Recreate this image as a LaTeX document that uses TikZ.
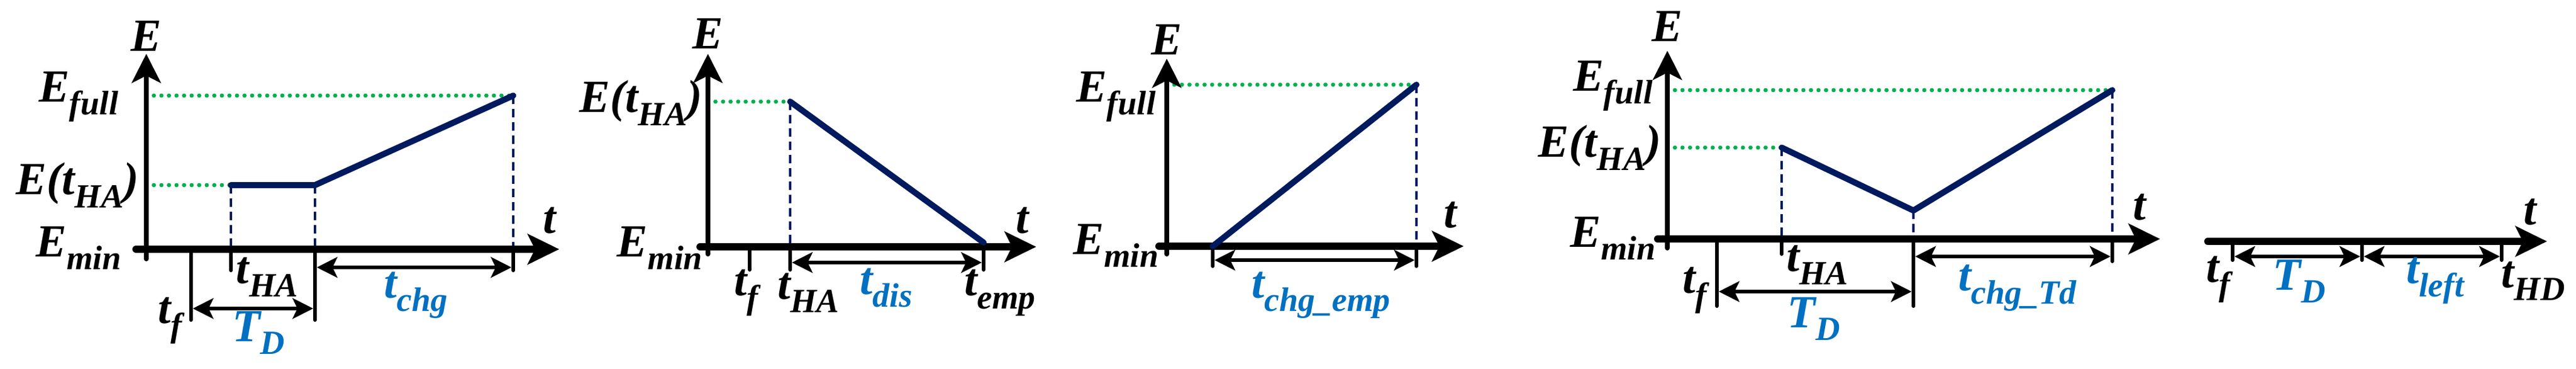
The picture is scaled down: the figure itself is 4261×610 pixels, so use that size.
\documentclass[tikz,border=0pt]{standalone}
\usepackage{fontspec}
\setmainfont{Liberation Serif}
\usetikzlibrary{arrows.meta}
\definecolor{navy}{RGB}{0,26,94}
\definecolor{grn}{RGB}{0,176,80}
\definecolor{lblue}{RGB}{0,112,192}
\newcommand\Lb[2]{#1\raisebox{-0.28em}{\fontsize{56}{56}\selectfont #2}}
\tikzset{
 lab/.style={font=\fontsize{76}{76}\selectfont\bfseries\itshape, inner sep=0pt},
 blab/.style={lab, text=lblue},
 haxis/.style={line width=12pt, line cap=round, -{Stealth[length=52pt,width=50pt,inset=12pt]}},
 vaxis/.style={line width=8pt, line cap=round, -{Stealth[length=48pt,width=48pt,inset=12pt]}},
 curve/.style={navy, line width=10pt, line cap=round, line join=round},
 gdot/.style={grn, line width=7pt, line cap=round, dash pattern=on 0pt off 12.5pt},
 ndash/.style={navy, line width=3.5pt, dash pattern=on 14pt off 8pt},
 tick/.style={line width=6pt, line cap=round},
 dim/.style={line width=6pt, {Stealth[length=34pt,width=34pt,inset=8pt]}-{Stealth[length=34pt,width=34pt,inset=8pt]}},
}
\begin{document}
\begin{tikzpicture}[x=1pt,y=1pt]
\useasboundingbox (0,-610) rectangle (4261,0);
% ===== Panel 1 =====
\coordinate (a0) at (225,-412); \coordinate (a1) at (925,-412);
\coordinate (v0) at (242,-428); \coordinate (v1) at (242,-89);
\coordinate (f1) at (849,-158); \coordinate (g0) at (242,-158);
\coordinate (h0) at (242,-306); \coordinate (p1) at (382,-306); \coordinate (p2) at (521,-306);
\draw[gdot] (g0) -- (f1);
\draw[gdot] (h0) -- (p1);
\draw[ndash] (p1) -- (382,-412); \draw[ndash] (p2) -- (521,-412); \draw[ndash] (f1) -- (849,-412);
\draw[tick] (316,-412) -- (316,-529); \draw[tick] (382,-412) -- (382,-447);
\draw[tick] (521,-412) -- (521,-529); \draw[tick] (849,-412) -- (849,-447);
\draw[haxis] (a0) -- (a1);
\draw[vaxis] (v0) -- (v1);
\draw[curve] (p1) -- (p2) -- (f1);
\draw[dim] (524,-442) -- (846,-442);
\draw[dim] (319,-510) -- (518,-510);
\node[lab] (E1) at (242,-60) {E};
\node[lab] (Ef1) at (130,-160) {\Lb{E}{full}};
\node[lab] (Eh1) at (128,-306) {E(\Lb{t}{HA})};
\node[lab] (Em1) at (130,-410) {\Lb{E}{min}};
\node[lab] (t1) at (909,-364) {t};
\node[lab] (tha1) at (442,-458) {\Lb{t}{HA}};
\node[blab] (tc1) at (688,-488) {\Lb{t}{chg}};
\node[lab] (tf1) at (281,-530) {\Lb{t}{f}};
\node[blab] (TD1) at (428,-550) {\Lb{T}{D}};
% ===== Panel 2 =====
\coordinate (b0) at (1158,-408); \coordinate (b1) at (1714,-408);
\coordinate (w0) at (1171,-420); \coordinate (w1) at (1171,-89);
\coordinate (q1) at (1307,-168); \coordinate (q2) at (1627,-401);
\draw[gdot] (1171,-168) -- (q1);
\draw[ndash] (q1) -- (1307,-408);
\draw[tick] (1240,-408) -- (1240,-446); \draw[tick] (1307,-408) -- (1307,-446); \draw[tick] (1627,-408) -- (1627,-446);
\draw[haxis] (b0) -- (b1);
\draw[vaxis] (w0) -- (w1);
\draw[curve] (q1) -- (q2);
\draw[dim] (1310,-434) -- (1624,-434);
\node[lab] (E2) at (1171,-56) {E};
\node[lab,anchor=east] (Eh2) at (1162,-170) {E(\Lb{t}{HA})};
\node[lab,anchor=east] (Em2) at (1162,-410) {\Lb{E}{min}};
\node[lab] (t2) at (1691,-364) {t};
\node[lab] (tf2) at (1234,-484) {\Lb{t}{f}};
\node[lab] (tha2) at (1337,-484) {\Lb{t}{HA}};
\node[blab] (td2) at (1466,-476) {\Lb{t}{dis}};
\node[lab] (te2) at (1654,-484) {\Lb{t}{emp}};
% ===== Panel 3 =====
\coordinate (c0) at (1917,-407); \coordinate (c1) at (2421,-407);
\coordinate (u0) at (1930,-420); \coordinate (u1) at (1930,-97);
\coordinate (r1) at (2006,-407); \coordinate (r2) at (2343,-140);
\draw[gdot] (1930,-140) -- (r2);
\draw[ndash] (r2) -- (2343,-407);
\draw[tick] (2006,-407) -- (2006,-440); \draw[tick] (2343,-407) -- (2343,-440);
\draw[haxis] (c0) -- (c1);
\draw[vaxis] (u0) -- (u1);
\draw[curve] (r1) -- (r2);
\draw[dim] (2009,-430) -- (2340,-430);
\node[lab] (E3) at (1930,-66) {E};
\node[lab] (Ef3) at (1846,-160) {\Lb{E}{full}};
\node[lab] (Em3) at (1846,-406) {\Lb{E}{min}};
\node[lab] (t3) at (2399,-355) {t};
\node[blab] (tce3) at (2185,-488) {\Lb{t}{chg\_emp}};
% ===== Panel 4 =====
\coordinate (d0) at (2742,-395); \coordinate (d1) at (3573,-395);
\coordinate (s0) at (2758,-410); \coordinate (s1) at (2758,-84);
\coordinate (m1) at (2947,-244); \coordinate (m2) at (3165,-348); \coordinate (m3) at (3494,-149);
\draw[gdot] (2758,-149) -- (m3);
\draw[gdot] (2758,-244) -- (m1);
\draw[ndash] (m1) -- (2947,-395); \draw[ndash] (m2) -- (3165,-395); \draw[ndash] (m3) -- (3494,-395);
\draw[tick] (2840,-395) -- (2840,-506); \draw[tick] (2947,-395) -- (2947,-420);
\draw[tick] (3165,-395) -- (3165,-506); \draw[tick] (3494,-395) -- (3494,-432);
\draw[haxis] (d0) -- (d1);
\draw[vaxis] (s0) -- (s1);
\draw[curve] (m1) -- (m2) -- (m3);
\draw[dim] (3168,-424) -- (3491,-424);
\draw[dim] (2843,-482) -- (3162,-482);
\node[lab] (E4) at (2758,-44) {E};
\node[lab] (Ef4) at (2668,-142) {\Lb{E}{full}};
\node[lab] (Eh4) at (2646,-244) {E(\Lb{t}{HA})};
\node[lab] (Em4) at (2668,-394) {\Lb{E}{min}};
\node[lab] (t4) at (3539,-342) {t};
\node[lab] (tha4) at (3006,-438) {\Lb{t}{HA}};
\node[lab] (tf4) at (2803,-480) {\Lb{t}{f}};
\node[blab] (TD4) at (3000,-527) {\Lb{T}{D}};
\node[blab] (tct4) at (3337,-476) {\Lb{t}{chg\_Td}};
% ===== Panel 5 =====
\coordinate (e0) at (3652,-399); \coordinate (e1) at (4213,-399);
\draw[tick] (3693,-399) -- (3693,-430); \draw[tick] (3907,-399) -- (3907,-430); \draw[tick] (4138,-399) -- (4138,-430);
\draw[haxis] (e0) -- (e1);
\draw[dim] (3696,-424) -- (3904,-424);
\draw[dim] (3910,-424) -- (4135,-424);
\node[lab] (t5) at (4185,-350) {t};
\node[lab] (tf5) at (3669,-462) {\Lb{t}{f}};
\node[blab] (TD5) at (3803,-465) {\Lb{T}{D}};
\node[blab] (tl5) at (4028,-464) {\Lb{t}{left}};
\node[lab] (thd5) at (4190,-465) {\Lb{t}{HD}};
\end{tikzpicture}
\end{document}
